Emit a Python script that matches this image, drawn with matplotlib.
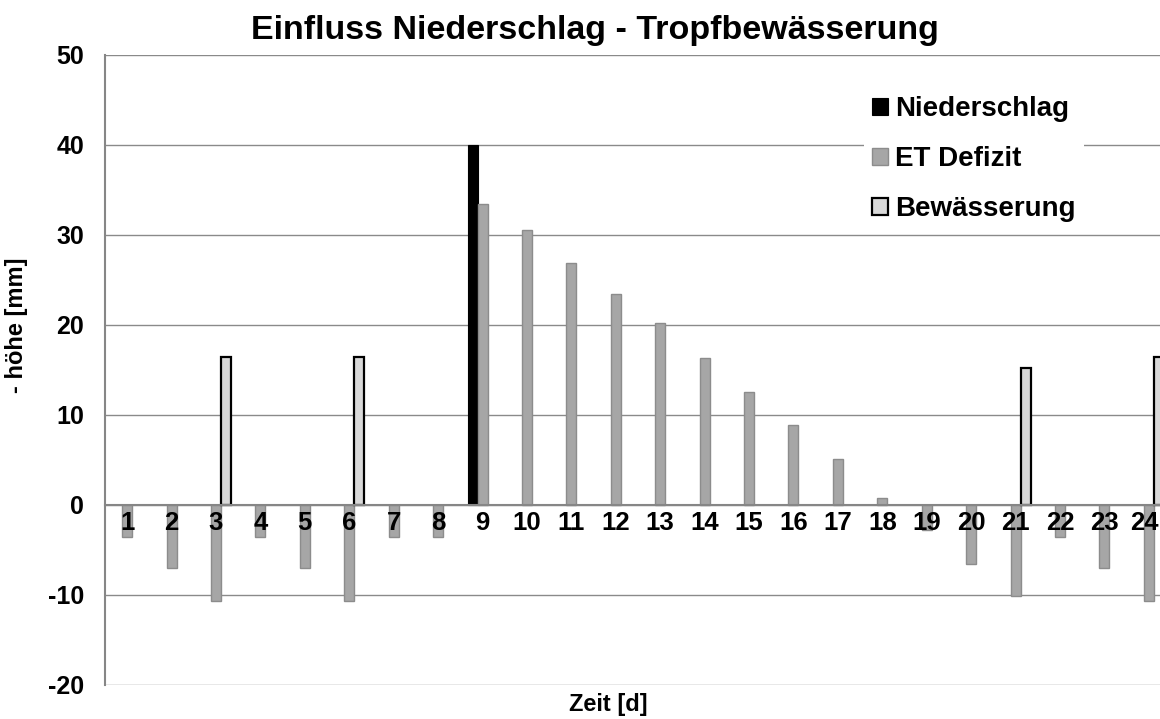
import numpy as np
import matplotlib
matplotlib.use("Agg")
from matplotlib import pyplot as plt
from matplotlib.transforms import ScaledTranslation

plt.rcParams['font.family'] = ['Liberation Sans', 'DejaVu Sans']
plt.rcParams['font.weight'] = 'bold'
plt.rcParams['axes.unicode_minus'] = False

# daily values in mm
tage = [str(i) for i in range(1, 25)]
niederschlag = [0, 0, 0, 0, 0, 0, 0, 0, 40, 0, 0, 0,
                0, 0, 0, 0, 0, 0, 0, 0, 0, 0, 0, 0]
et_defizit = [-3.5, -7.0, -10.7, -3.5, -7.0, -10.7, -3.5, -3.6, 33.5, 30.6, 26.9, 23.5,
              20.2, 16.3, 12.6, 8.9, 5.1, 0.8, -2.8, -6.6, -10.1, -3.6, -7.0, -10.7]
bewaesserung = [0, 0, 16.4, 0, 0, 16.4, 0, 0, 0, 0, 0, 0,
                0, 0, 0, 0, 0, 0, 0, 0, 15.2, 0, 0, 16.4]


def ohne_null(werte):
    # empty days get no bar at all (avoids a flat outline at zero)
    a = np.array(werte, dtype=float)
    a[a == 0] = np.nan
    return a


fig = plt.figure(figsize=(11.6, 7.19), dpi=100)
ax = fig.add_axes([105 / 1160, 1 - 685 / 719, 1066 / 1160, 630 / 719])

x = np.arange(len(tage))
w = 0.225

ax.bar(x - w, ohne_null(niederschlag), w, color='black', edgecolor='black', linewidth=0.8,
       label='Niederschlag', zorder=3)
ax.bar(x, ohne_null(et_defizit), w, color='#a6a6a6', edgecolor='#8c8c8c', linewidth=1.0,
       label='ET Defizit', zorder=3)
ax.bar(x + w, ohne_null(bewaesserung), w, color='#d9d9d9', edgecolor='black', linewidth=1.6,
       label='Bewässerung', zorder=3)

ax.set_xlim(-0.5, len(tage) - 0.5)
ax.set_ylim(-20, 50)
ax.set_yticks(range(-20, 51, 10))
ax.yaxis.grid(True, color='#8a8a8a', linewidth=1.0)
ax.set_axisbelow(True)

ax.spines['bottom'].set_position(('data', 0))
ax.spines['bottom'].set_color('#868686')
ax.spines['bottom'].set_linewidth(1.5)
ax.spines['bottom'].set_zorder(4)
ax.spines['left'].set_color('#868686')
ax.spines['left'].set_linewidth(1.5)
ax.spines['top'].set_visible(False)
ax.spines['right'].set_visible(False)

ax.set_xticks(x)
ax.set_xticklabels(tage)
ax.tick_params(axis='x', length=0, pad=4, labelsize=18.5)
ax.tick_params(axis='y', length=0, pad=15, labelsize=18)
for t in ax.get_xticklabels() + ax.get_yticklabels():
    t.set_fontweight('bold')
# day numbers sit on top of the bars
ax.xaxis.set_zorder(5)
# keep the last day number inside the figure
letzte = ax.get_xticklabels()[-1]
letzte.set_transform(letzte.get_transform() + ScaledTranslation(-4 / 100, 0, fig.dpi_scale_trans))

fig.text(0.513, 1 - 30 / 719, 'Einfluss Niederschlag - Tropfbewässerung',
         ha='center', va='center', fontsize=24.5, fontweight='bold')
fig.text(17 / 1160, 1 - 325 / 719, '- höhe [mm]', rotation=90,
         ha='center', va='center', fontsize=17, fontweight='bold')
fig.text(608 / 1160, 1 - 705 / 719, 'Zeit [d]',
         ha='center', va='center', fontsize=17, fontweight='bold')

leg = ax.legend(loc='upper left', bbox_to_anchor=(864 / 1160, 1 - 88 / 719),
                bbox_transform=fig.transFigure, frameon=True, fontsize=20,
                handlelength=0.57, handleheight=0.57, handletextpad=0.26,
                labelspacing=0.86, borderpad=0.3, borderaxespad=0)
leg.get_frame().set_facecolor('white')
leg.get_frame().set_edgecolor('none')
leg.get_frame().set_alpha(1)
for t in leg.get_texts():
    t.set_fontweight('bold')

fig.savefig('out.png', dpi=100)
